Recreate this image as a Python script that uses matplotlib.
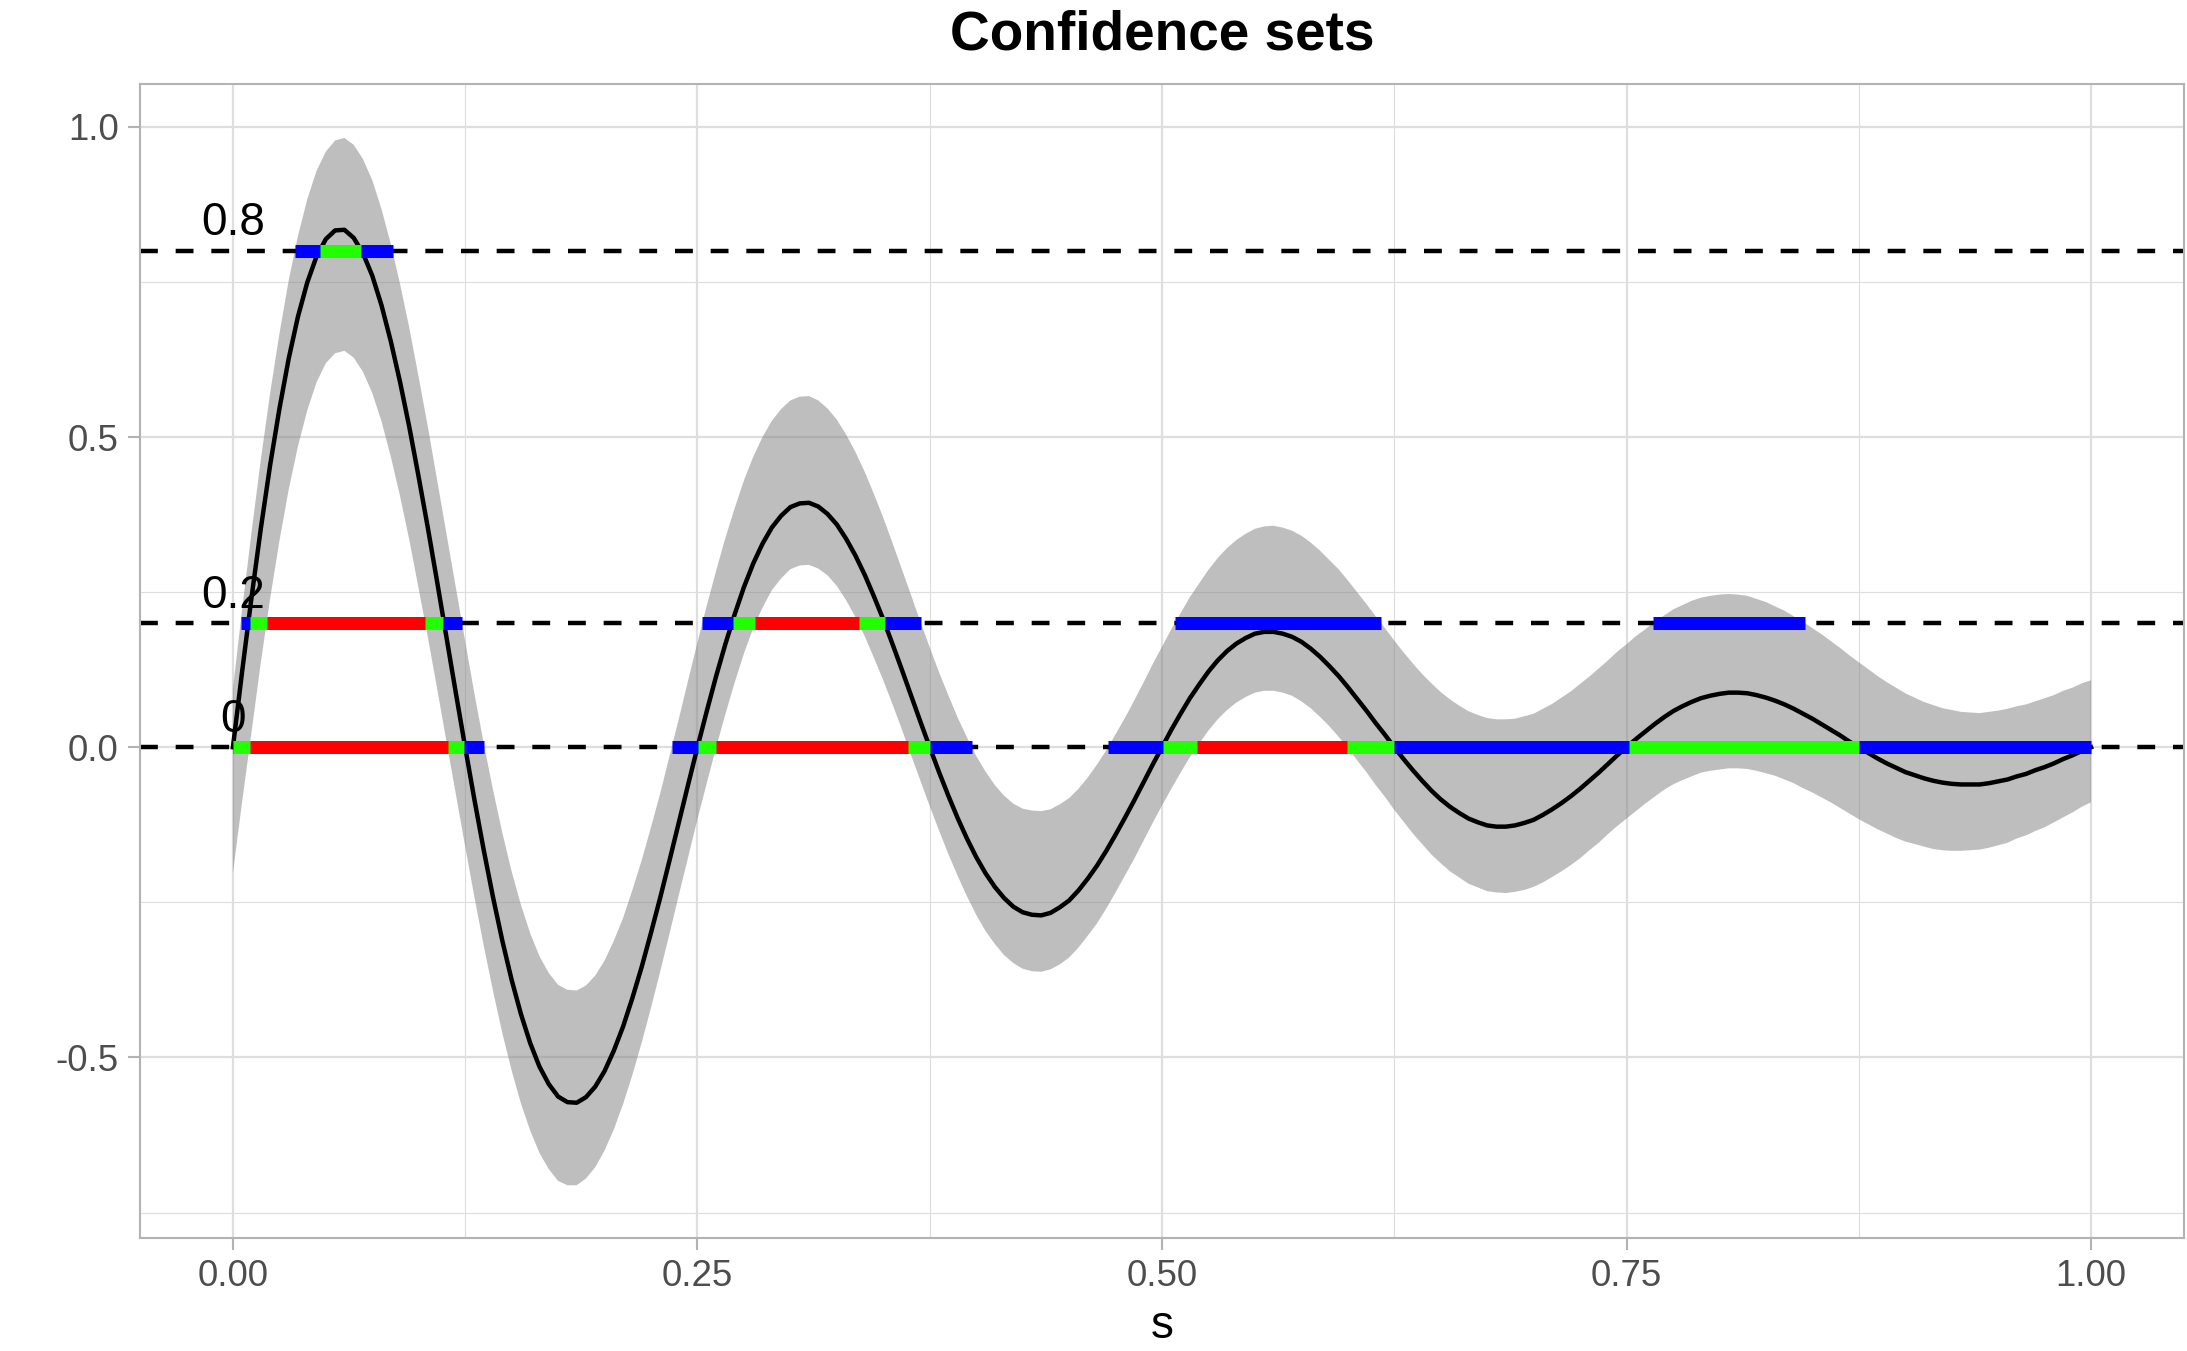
import numpy as np
import matplotlib
matplotlib.use('Agg')  # no display here
import matplotlib.pyplot as plt

plt.rcParams['font.family'] = ['Liberation Sans', 'DejaVu Sans']

s = np.linspace(0.0, 1.0, 201)

# black curve
mean = [
    0.000, 0.123, 0.241, 0.352, 0.454, 0.545, 0.626, 0.694, 0.749, 0.791,
    0.819, 0.833, 0.834, 0.821, 0.796, 0.760, 0.712, 0.654, 0.588, 0.515,
    0.435, 0.352, 0.265, 0.176, 0.087, 0.000, -0.085, -0.166, -0.242, -0.312,
    -0.375, -0.430, -0.477, -0.515, -0.543, -0.563, -0.572, -0.573, -0.564, -0.547,
    -0.522, -0.489, -0.450, -0.404, -0.354, -0.299, -0.242, -0.182, -0.121, -0.060,
    0.000, 0.058, 0.114, 0.166, 0.214, 0.258, 0.296, 0.328, 0.354, 0.373,
    0.387, 0.393, 0.394, 0.388, 0.376, 0.359, 0.336, 0.309, 0.278, 0.243,
    0.206, 0.166, 0.125, 0.083, 0.041, 0.000, -0.040, -0.078, -0.114, -0.147,
    -0.177, -0.203, -0.225, -0.243, -0.257, -0.266, -0.270, -0.271, -0.267, -0.258,
    -0.247, -0.231, -0.212, -0.191, -0.167, -0.141, -0.114, -0.086, -0.057, -0.028,
    0.000, 0.028, 0.054, 0.079, 0.101, 0.122, 0.140, 0.155, 0.167, 0.176,
    0.183, 0.186, 0.186, 0.183, 0.178, 0.170, 0.159, 0.146, 0.131, 0.115,
    0.097, 0.078, 0.059, 0.039, 0.020, 0.000, -0.019, -0.037, -0.054, -0.070,
    -0.084, -0.096, -0.106, -0.115, -0.121, -0.126, -0.128, -0.128, -0.126, -0.122,
    -0.117, -0.109, -0.100, -0.090, -0.079, -0.067, -0.054, -0.041, -0.027, -0.013,
    0.000, 0.013, 0.025, 0.037, 0.048, 0.058, 0.066, 0.073, 0.079, 0.083,
    0.086, 0.088, 0.088, 0.087, 0.084, 0.080, 0.075, 0.069, 0.062, 0.054,
    0.046, 0.037, 0.028, 0.019, 0.009, 0.000, -0.009, -0.018, -0.026, -0.033,
    -0.040, -0.045, -0.050, -0.054, -0.057, -0.059, -0.060, -0.060, -0.060, -0.058,
    -0.055, -0.052, -0.047, -0.043, -0.037, -0.032, -0.026, -0.019, -0.013, -0.006,
    0.000]

# how far the grey band's upper edge sits above the curve
up_dev = [
    0.094, 0.100, 0.105, 0.111, 0.116, 0.121, 0.126, 0.130, 0.134, 0.138,
    0.141, 0.145, 0.148, 0.150, 0.152, 0.154, 0.155, 0.157, 0.158, 0.160,
    0.161, 0.163, 0.164, 0.167, 0.170, 0.171, 0.171, 0.172, 0.173, 0.174,
    0.175, 0.176, 0.177, 0.178, 0.179, 0.180, 0.181, 0.181, 0.180, 0.179,
    0.178, 0.177, 0.175, 0.174, 0.172, 0.170, 0.168, 0.168, 0.167, 0.168,
    0.169, 0.170, 0.170, 0.171, 0.171, 0.172, 0.172, 0.172, 0.172, 0.172,
    0.172, 0.172, 0.172, 0.171, 0.170, 0.169, 0.168, 0.167, 0.166, 0.165,
    0.164, 0.163, 0.162, 0.162, 0.161, 0.161, 0.161, 0.162, 0.162, 0.163,
    0.163, 0.164, 0.164, 0.165, 0.166, 0.167, 0.168, 0.168, 0.167, 0.166,
    0.165, 0.164, 0.163, 0.163, 0.162, 0.162, 0.161, 0.161, 0.161, 0.162,
    0.162, 0.162, 0.162, 0.163, 0.163, 0.164, 0.165, 0.166, 0.167, 0.168,
    0.169, 0.170, 0.171, 0.171, 0.171, 0.171, 0.171, 0.171, 0.171, 0.172,
    0.172, 0.172, 0.172, 0.172, 0.172, 0.172, 0.172, 0.172, 0.172, 0.173,
    0.173, 0.173, 0.173, 0.173, 0.173, 0.173, 0.173, 0.173, 0.172, 0.172,
    0.171, 0.171, 0.170, 0.170, 0.169, 0.169, 0.168, 0.168, 0.167, 0.167,
    0.166, 0.166, 0.165, 0.165, 0.164, 0.164, 0.163, 0.163, 0.162, 0.161,
    0.160, 0.159, 0.158, 0.157, 0.155, 0.154, 0.152, 0.151, 0.149, 0.148,
    0.146, 0.145, 0.143, 0.141, 0.139, 0.137, 0.135, 0.133, 0.131, 0.129,
    0.127, 0.125, 0.123, 0.122, 0.120, 0.119, 0.117, 0.116, 0.115, 0.115,
    0.114, 0.114, 0.113, 0.112, 0.111, 0.111, 0.110, 0.110, 0.109, 0.109,
    0.108]

# how far the grey band's lower edge sits below the curve
lo_dev = [
    0.203, 0.210, 0.217, 0.216, 0.215, 0.213, 0.211, 0.209, 0.206, 0.203,
    0.200, 0.198, 0.195, 0.193, 0.191, 0.189, 0.187, 0.186, 0.184, 0.182,
    0.180, 0.176, 0.172, 0.168, 0.163, 0.160, 0.157, 0.154, 0.151, 0.149,
    0.146, 0.144, 0.141, 0.139, 0.137, 0.136, 0.134, 0.133, 0.131, 0.130,
    0.128, 0.127, 0.125, 0.124, 0.122, 0.121, 0.119, 0.118, 0.117, 0.117,
    0.116, 0.116, 0.115, 0.113, 0.110, 0.107, 0.104, 0.103, 0.101, 0.101,
    0.100, 0.100, 0.100, 0.100, 0.099, 0.099, 0.099, 0.099, 0.099, 0.099,
    0.098, 0.097, 0.096, 0.096, 0.095, 0.095, 0.094, 0.094, 0.093, 0.093,
    0.093, 0.093, 0.092, 0.092, 0.091, 0.091, 0.091, 0.091, 0.091, 0.092,
    0.092, 0.092, 0.092, 0.093, 0.093, 0.093, 0.093, 0.094, 0.094, 0.094,
    0.094, 0.095, 0.095, 0.095, 0.095, 0.095, 0.095, 0.095, 0.095, 0.095,
    0.095, 0.095, 0.095, 0.095, 0.095, 0.096, 0.096, 0.097, 0.097, 0.098,
    0.098, 0.099, 0.099, 0.100, 0.100, 0.101, 0.101, 0.102, 0.102, 0.103,
    0.103, 0.104, 0.104, 0.105, 0.105, 0.106, 0.106, 0.107, 0.107, 0.108,
    0.108, 0.109, 0.109, 0.110, 0.111, 0.112, 0.112, 0.113, 0.113, 0.114,
    0.115, 0.116, 0.116, 0.117, 0.117, 0.118, 0.119, 0.120, 0.120, 0.121,
    0.122, 0.122, 0.122, 0.122, 0.122, 0.122, 0.121, 0.121, 0.120, 0.120,
    0.119, 0.118, 0.117, 0.117, 0.116, 0.116, 0.115, 0.114, 0.113, 0.113,
    0.112, 0.111, 0.110, 0.110, 0.109, 0.108, 0.107, 0.106, 0.105, 0.104,
    0.103, 0.102, 0.100, 0.099, 0.098, 0.097, 0.095, 0.094, 0.092, 0.090,
    0.0885]

levels = [0.8, 0.2, 0.0]
level_labels = ['0.8', '0.2', '0']

# (start, end) intervals on each level
outer_sets = {
    0.8: [(0.0332, 0.0860)],
    0.2: [(0.0041, 0.1234), (0.2525, 0.3703), (0.5069, 0.6178), (0.7644, 0.8459)],
    0.0: [(0.0, 0.1351), (0.2363, 0.3975), (0.4711, 1.0)],
}
estimate_sets = {
    0.8: [(0.0471, 0.0691)],
    0.2: [(0.0094, 0.1132), (0.2692, 0.3507)],
    0.0: [(0.0, 0.1246), (0.2503, 0.3749), (0.5008, 0.6247), (0.7514, 0.8752)],
}
inner_sets = {
    0.8: [],
    0.2: [(0.0181, 0.1034), (0.2812, 0.3367)],
    0.0: [(0.0090, 0.1155), (0.2601, 0.3635), (0.5187, 0.5998)],
}

x_major = [0.0, 0.25, 0.5, 0.75, 1.0]
x_major_labels = ['0.00', '0.25', '0.50', '0.75', '1.00']
x_minor = [0.125, 0.375, 0.625, 0.875]
y_major = [-0.5, 0.0, 0.5, 1.0]
y_major_labels = ['-0.5', '0.0', '0.5', '1.0']
y_minor = [-0.75, -0.25, 0.25, 0.75]


def make_plot():
    W, H = 2187, 1351
    fig = plt.figure(figsize=(W / 300, H / 300), dpi=300)
    ax = fig.add_axes([140 / W, 1 - 1238 / H, (2184 - 140) / W, (1238 - 84) / H])

    m = np.array(mean)
    upper = m + np.array(up_dev)
    lower = m - np.array(lo_dev)

    # band + curve
    ax.fill_between(s, lower, upper, facecolor='#7f7f7f', alpha=0.5,
                    linewidth=0, zorder=1)
    ax.plot(s, m, color='black', lw=1.07, zorder=3)

    for lev in levels:
        ax.axhline(lev, color='black', lw=1.07, linestyle=(0, (4, 4)), zorder=2)

    # coloured set bars on each level: outer, then estimate, then inner
    for sets, col in [(outer_sets, '#0000ff'), (estimate_sets, '#22ff00'),
                      (inner_sets, '#ff0000')]:
        for lev in levels:
            for a, b in sets[lev]:
                ax.plot([a, b], [lev, lev], color=col, lw=3.12,
                        solid_capstyle='butt', zorder=4)

    for lev, lab in zip(levels, level_labels):
        ax.annotate(lab, xy=(0, lev), xytext=(0, 3.7), textcoords='offset points',
                    ha='center', va='baseline', fontsize=11, color='black', zorder=6)

    ax.set_xlim(-0.05, 1.05)
    ax.set_ylim(-0.791, 1.069)

    ax.set_xticks(x_major)
    ax.set_xticklabels(x_major_labels)
    ax.set_xticks(x_minor, minor=True)
    ax.set_yticks(y_major)
    ax.set_yticklabels(y_major_labels)
    ax.set_yticks(y_minor, minor=True)

    ax.set_axisbelow(True)
    ax.grid(which='major', color='#dedede', lw=0.53)
    ax.grid(which='minor', color='#dedede', lw=0.27)
    ax.tick_params(which='major', length=2.9, width=0.5, color='#b3b3b3',
                   labelcolor='#4d4d4d', labelsize=8.8, pad=2.2)
    ax.tick_params(which='minor', length=0)
    for sp in ax.spines.values():
        sp.set_color('#b3b3b3')
        sp.set_linewidth(0.5)

    cx = (140 + 2184) / 2 / W
    fig.text(cx, 1 - 50 / H, 'Confidence sets', ha='center', va='baseline',
             fontsize=13.2, fontweight='bold')
    fig.text(cx, (H - 1338) / H, 's', ha='center', va='baseline', fontsize=11)

    fig.savefig('out.png', dpi=300)


if __name__ == "__main__":
    make_plot()
